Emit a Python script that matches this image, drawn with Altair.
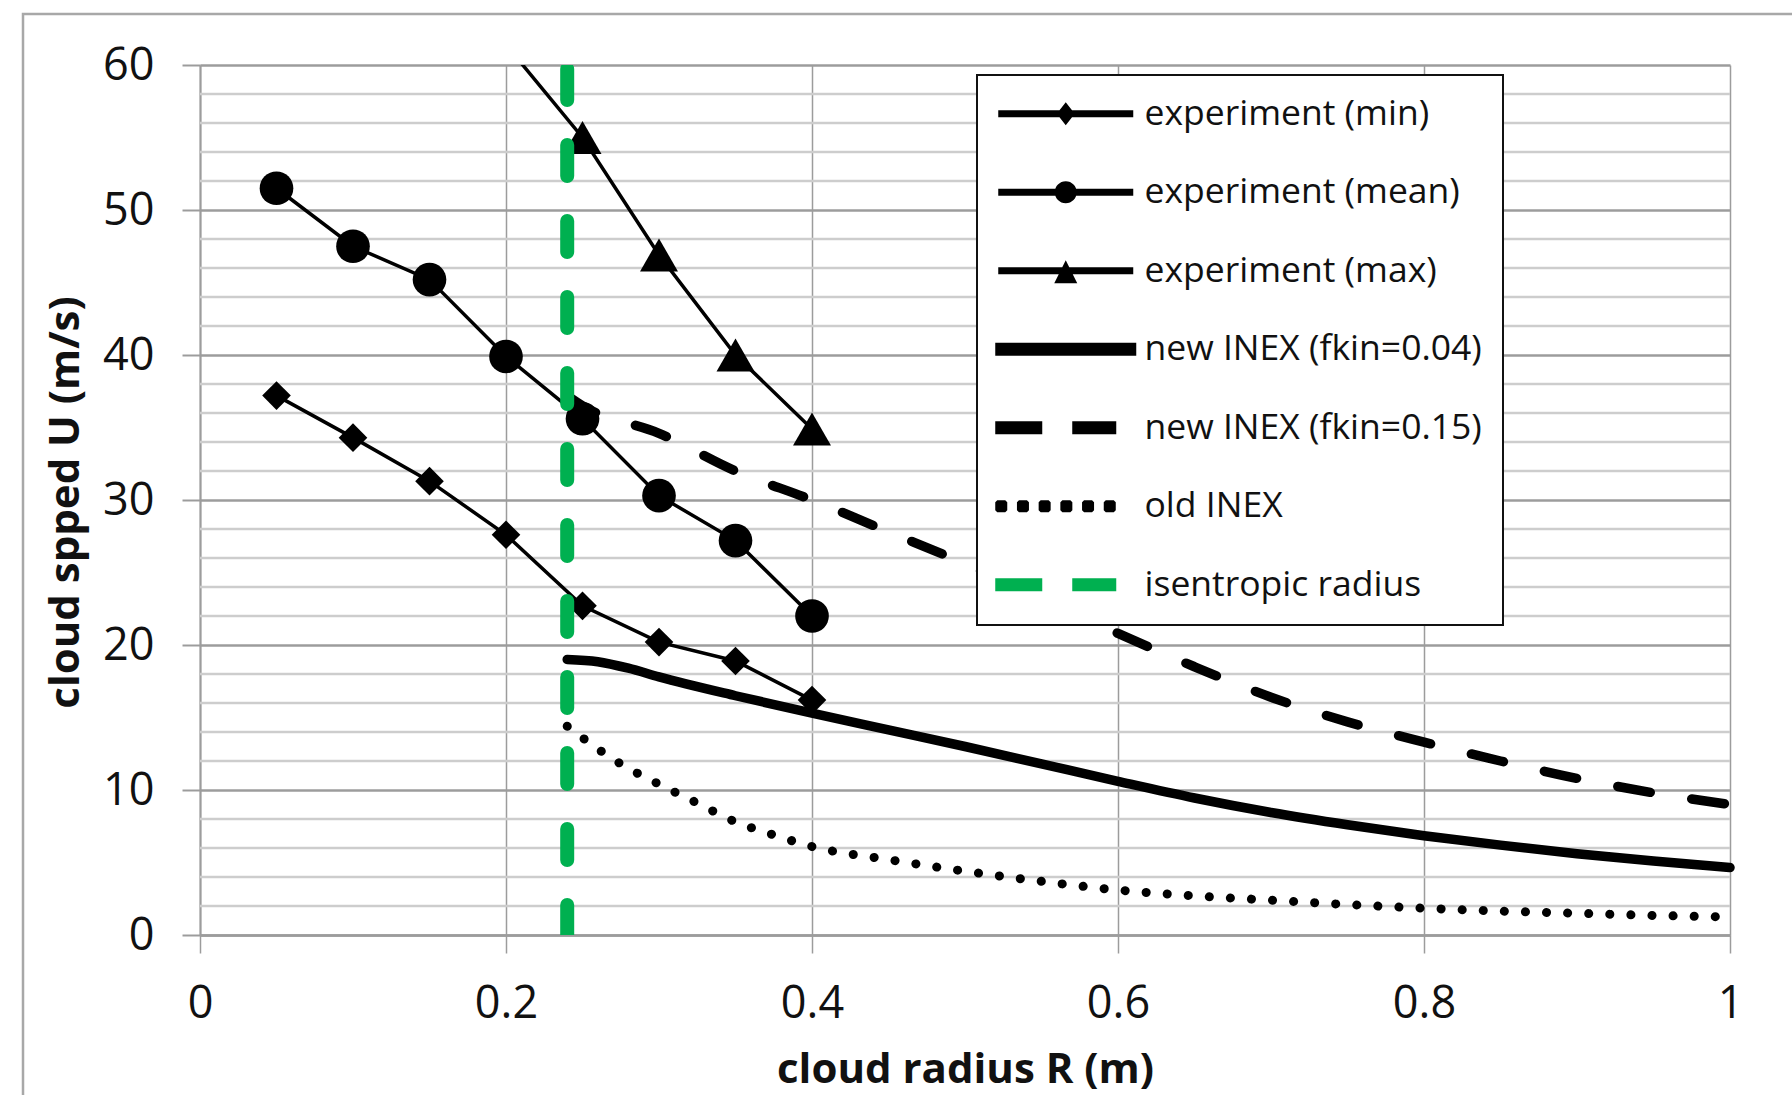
import altair as alt
import pandas as pd

SERIES = ["experiment (min)", "experiment (mean)", "experiment (max)",
          "new INEX (fkin=0.04)", "new INEX (fkin=0.15)", "old INEX",
          "isentropic radius"]
COLORS = ["#000000", "#000000", "#000000", "#000000", "#000000", "#000000", "#00B050"]

X_TICKS = [0, 0.2, 0.4, 0.6, 0.8, 1.0]
Y_TICKS = [0, 10, 20, 30, 40, 50, 60]
Y_MINOR = [2, 4, 6, 8, 12, 14, 16, 18, 22, 24, 26, 28, 32, 34, 36, 38,
           42, 44, 46, 48, 52, 54, 56, 58]

R_exp = [0.05, 0.10, 0.15, 0.20, 0.25, 0.30, 0.35, 0.40]
U_min = [37.2, 34.3, 31.3, 27.6, 22.7, 20.2, 18.9, 16.2]
U_mean = [51.5, 47.5, 45.2, 39.9, 35.6, 30.3, 27.2, 22.0]
R_max = [0.20, 0.25, 0.30, 0.35, 0.40]
U_max = [61.4, 55.0, 46.9, 40.0, 34.9]

R_new04 = [0.24, 0.26, 0.28, 0.30, 0.35, 0.40, 0.45, 0.50, 0.55, 0.60,
           0.65, 0.70, 0.75, 0.80, 0.85, 0.90, 0.95, 1.00]
U_new04 = [19.0, 18.85, 18.4, 17.8, 16.5, 15.3, 14.15, 13.0, 11.8, 10.6,
           9.45, 8.45, 7.6, 6.85, 6.2, 5.6, 5.1, 4.65]

R_new15 = [0.24, 0.25, 0.30, 0.35, 0.40, 0.45, 0.50, 0.55, 0.60, 0.65,
           0.70, 0.75, 0.80, 0.85, 0.90, 0.95, 1.00]
U_new15 = [37.2, 36.5, 34.6, 32.0, 30.0, 27.8, 25.6, 23.1, 20.8, 18.5,
           16.4, 14.7, 13.3, 12.0, 10.8, 9.8, 9.0]

R_old = [0.24, 0.25, 0.275, 0.30, 0.325, 0.35, 0.375, 0.40, 0.45, 0.50,
         0.55, 0.60, 0.65, 0.70, 0.75, 0.80, 0.85, 0.90, 0.95, 1.00]
U_old = [14.4, 13.6, 11.8, 10.4, 9.1, 7.8, 6.9, 6.1, 5.2, 4.4,
         3.7, 3.1, 2.7, 2.4, 2.1, 1.85, 1.65, 1.5, 1.35, 1.25]

R_isen = [0.24, 0.24]
U_isen = [60, 0]


def frame(name, xs, ys):
    return pd.DataFrame({"R": xs, "U": ys, "series": name, "ord": list(range(len(xs)))})


df_exp = pd.concat([frame(SERIES[0], R_exp, U_min),
                    frame(SERIES[1], R_exp, U_mean),
                    frame(SERIES[2], R_max, U_max)], ignore_index=True)
df_new04 = frame(SERIES[3], R_new04, U_new04)
df_new15 = frame(SERIES[4], R_new15, U_new15)
df_old = frame(SERIES[5], R_old, U_old)
df_isen = frame(SERIES[6], R_isen, U_isen)
df_minor = pd.DataFrame({"U": Y_MINOR})

FONT = "Open Sans"
GRID_MAJOR = "#9c9c9c"
GRID_MINOR = "#cdcdcd"

x_scale = alt.Scale(domain=[0, 1], nice=False, zero=False)
y_scale = alt.Scale(domain=[0, 60], nice=False)

x_axis = alt.Axis(values=X_TICKS, format="~g", title="cloud radius R (m)",
                  grid=True, gridColor=GRID_MAJOR, gridWidth=1.5,
                  domainColor=GRID_MAJOR, domainWidth=2.5,
                  tickColor=GRID_MAJOR, tickWidth=1.5, tickSize=18,
                  labelFont=FONT, labelFontSize=45, labelColor="#111111",
                  labelPadding=50, labelBaseline="middle", labelFlush=False,
                  titleFont=FONT, titleFontSize=42, titleFontWeight="bold",
                  titleColor="#111111", titleX=765, titleY=134,
                  titleBaseline="middle", titleAlign="center")
y_axis = alt.Axis(values=Y_TICKS, title="cloud spped U (m/s)",
                  grid=True, gridColor=GRID_MAJOR, gridWidth=2.5,
                  domainColor=GRID_MAJOR, domainWidth=2,
                  tickColor=GRID_MAJOR, tickWidth=2, tickSize=18,
                  labelFont=FONT, labelFontSize=45, labelColor="#111111",
                  labelPadding=28, labelFlush=False,
                  titleFont=FONT, titleFontSize=42, titleFontWeight="bold",
                  titleColor="#111111", titleAngle=-90, titleX=-135, titleY=437,
                  titleBaseline="middle", titleAlign="center")


# legend symbol glyphs (unit = sqrt(symbolSize)/2 px)
def rect(x1, x2, h):
    return f"M{x1},{-h}L{x2},{-h}L{x2},{h}L{x1},{h}Z"


def octa(cx, s, c):
    return (f"M{cx - s + c},{-s}L{cx + s - c},{-s}L{cx + s},{-s + c}L{cx + s},{s - c}"
            f"L{cx + s - c},{s}L{cx - s + c},{s}L{cx - s},{s - c}L{cx - s},{-s + c}Z")


a, k = 1.1, 0.6076
P_EXP_LINE = rect(-6.75, 6.75, 0.35)
P_MIN = P_EXP_LINE + "M-0.9,0L0,-1.15L0.9,0L0,1.15Z"
P_MEAN = P_EXP_LINE + (f"M{-a},0C{-a},{-k},{-k},{-a},0,{-a}C{k},{-a},{a},{-k},{a},0"
                       f"C{a},{k},{k},{a},0,{a}C{-k},{a},{-a},{k},{-a},0Z")
P_MAX = P_EXP_LINE + "M-1.15,1.24L0,-1.04L1.15,1.24Z"
P_SOLID = rect(-7.05, 7.05, 0.65)
P_DASH = rect(-7.05, -2.35, 0.65) + rect(0.65, 5.05, 0.65)
P_DOT = "".join(octa(cx, 0.6, 0.2) for cx in [-6.45, -4.28, -2.11, 0.06, 2.23, 4.4])

v = "datum.value"
shape_sig = (f"{v} === '{SERIES[0]}' ? '{P_MIN}' : "
             f"{v} === '{SERIES[1]}' ? '{P_MEAN}' : "
             f"{v} === '{SERIES[2]}' ? '{P_MAX}' : "
             f"{v} === '{SERIES[3]}' ? '{P_SOLID}' : "
             f"{v} === '{SERIES[5]}' ? '{P_DOT}' : '{P_DASH}'")
fill_sig = f"{v} === '{SERIES[6]}' ? '#00B050' : '#000000'"

legend = alt.Legend(
    title=None, orient="none", legendX=777, legendY=10,
    padding=21, fillColor="white", strokeColor="#111111",
    labelFont=FONT, labelFontSize=35.5, labelColor="#111111", labelLimit=1000,
    labelOffset=61, symbolOffset=50, symbolSize=400, rowPadding=41.5,
    labelBaseline="middle",
    symbolType={"expr": shape_sig},
    symbolFillColor={"expr": fill_sig},
    symbolStrokeWidth=0,
    symbolStrokeColor="transparent",
    symbolOpacity=1,
)

color = alt.Color("series:N", scale=alt.Scale(domain=SERIES, range=COLORS), legend=legend)
X = alt.X("R:Q", scale=x_scale, axis=x_axis)
Y = alt.Y("U:Q", scale=y_scale, axis=y_axis)

frame_rect = alt.Chart(pd.DataFrame({"a": [0]})).mark_rect(
    filled=False, stroke="#a8a8a8", strokeWidth=2.5
).encode(x=alt.value(-177), x2=alt.value(1700), y=alt.value(-51), y2=alt.value(1200))

minor = alt.Chart(df_minor).mark_rule(color=GRID_MINOR, strokeWidth=2.5).encode(
    y=alt.Y("U:Q", scale=y_scale, axis=y_axis))

exp_lines = alt.Chart(df_exp).mark_line(strokeWidth=3.5, clip=True).encode(
    x=X, y=Y, color=color, detail="series:N", order="ord:Q")

exp_points = alt.Chart(df_exp).mark_point(filled=True, opacity=1, clip=True).encode(
    x=X, y=Y, color=color,
    shape=alt.Shape("series:N", scale=alt.Scale(domain=SERIES[:3],
                    range=["diamond", "circle", "triangle-up"]), legend=None),
    size=alt.Size("series:N", scale=alt.Scale(domain=SERIES[:3],
                  range=[820, 1444, 1000]), legend=None))

new04 = alt.Chart(df_new04).mark_line(strokeWidth=9.5, interpolate="monotone",
                                      strokeCap="round").encode(
    x=X, y=Y, color=color, order="ord:Q")

new15 = alt.Chart(df_new15).mark_line(strokeWidth=9.5, interpolate="monotone",
                                      strokeDash=[33, 42], strokeCap="round").encode(
    x=X, y=Y, color=color, order="ord:Q")

old = alt.Chart(df_old).mark_line(strokeWidth=9, interpolate="monotone",
                                  strokeDash=[0.1, 21], strokeCap="round").encode(
    x=X, y=Y, color=color, order="ord:Q")

isen = alt.Chart(df_isen).mark_line(strokeWidth=14, strokeDash=[31, 45],
                                    strokeDashOffset=-4, strokeCap="round",
                                    clip=True).encode(
    x=X, y=Y, color=color, order="ord:Q")

chart = alt.layer(frame_rect, minor, exp_lines, exp_points, new04, new15, old, isen).properties(
    width=1530, height=870, autosize="none",
    padding={"left": 200, "top": 65, "right": 62, "bottom": 160},
    background="white",
).configure(font=FONT).configure_view(stroke=None).configure_legend(strokeWidth=2)

chart.save("out.html", embed_options={"renderer": "svg", "actions": False})
